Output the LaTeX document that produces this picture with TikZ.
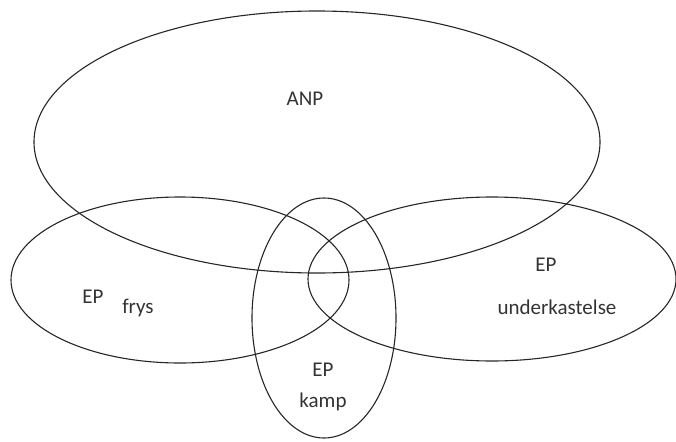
\documentclass[tikz,border=0pt]{standalone}
\usepackage{fontspec}
\setmainfont{Carlito}
\usetikzlibrary{shapes.geometric}

\begin{document}
\begin{tikzpicture}[x=1pt, y=-1pt, font=\fontsize{21}{25}\selectfont]

        % Setup the styles for the parts and their labels
        \tikzset{part style/.style={ellipse,
                                    draw=black!85,
                                    line width=1.1pt,
                                    inner sep=0pt},
                 name style/.style={text=black!80,
                                    inner sep=0pt}}

        \useasboundingbox (0, 0) rectangle (676, 441);

        % Draw the parts
        \node[part style, minimum width=566pt, minimum height=262pt] at (317, 142) (ANP)  {};
        \node[part style, minimum width=338pt, minimum height=166pt] at (180, 280) (frys) {};
        \node[part style, minimum width=368pt, minimum height=164pt] at (492, 279) (under) {};
        \node[part style, minimum width=144pt, minimum height=240pt] at (324, 318) (kamp) {};

        % Put the names in
        \node[name style] at (305, 99)  (ANPname)   {ANP};
        \node[name style] at (93, 297)  (frysEP)    {EP};
        \node[name style] at (138, 308) (frysname)  {frys};
        \node[name style] at (546, 265) (underEP)   {EP};
        \node[name style] at (557, 307) (undername) {underkastelse};
        \node[name style] at (323, 370) (kampEP)    {EP};
        \node[name style] at (323, 402) (kampname)  {kamp};
    \end{tikzpicture}
\end{document}
